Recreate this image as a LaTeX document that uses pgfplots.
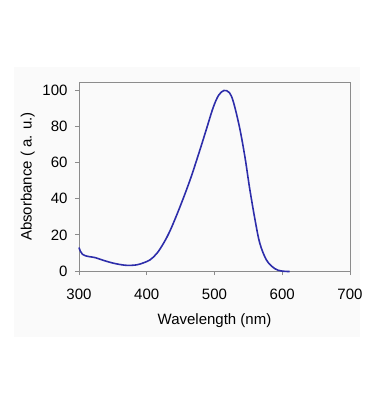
\documentclass[border=0pt]{standalone}
\usepackage{pgfplots}
\pgfplotsset{compat=1.18}
\usepackage{fontspec}
\setmainfont{Liberation Sans}
\definecolor{curve}{RGB}{45,45,170}
\definecolor{axgray}{RGB}{140,140,140}
\definecolor{panel}{RGB}{250,250,250}
\begin{document}
\begin{tikzpicture}
\path[use as bounding box, fill=white] (-79bp,-148bp) rectangle (290bp,271bp);
\fill[panel] (-65bp,-66bp) rectangle (281bp,204bp);
\begin{axis}[
  at={(0,0)}, anchor=south west,
  scale only axis, width=271bp, height=189bp,
  xmin=300, xmax=700, ymin=0, ymax=104.7,
  xtick={300,400,...,700}, ytick={0,20,...,100},
  axis line style={axgray, line width=0.8pt},
  tick style={axgray, line width=0.8pt},
  tick align=outside, major tick length=4bp,
  xtick pos=bottom, ytick pos=left,
  /pgf/number format/assume math mode=true,
  ticklabel style={font=\fontsize{15bp}{18bp}\selectfont, text=black},
  xticklabel style={yshift=-11bp},
  yticklabel style={xshift=-4bp},
  label style={font=\fontsize{15bp}{18bp}\selectfont},
  xlabel={Wavelength (nm)}, ylabel={Absorbance ( a. u.)},
  xlabel style={yshift=-7bp}, ylabel style={yshift=1bp},
  clip=false,
]
\addplot[curve, line width=1.6pt, smooth, tension=0.55] coordinates {
(300,13.0) (302,11.0) (305,9.3) (309,8.5) (316,7.9) (324,7.4) (336,5.9)
(350,4.4) (362,3.5) (372,3.1) (385,3.4) (395,4.5) (405,6.2) (415,9.8)
(425,15.5) (435,22.8) (449,35.5) (464,50.5) (478,66.5) (488,78.5)
(498,90.5) (506,97.3) (514,100) (522,98.8) (528,93.5) (537,79.5)
(545,63) (552,45.5) (560,28) (567,15.2) (577,5.9) (589,1.3) (599,0)
(611,-0.3)
};
\end{axis}
\end{tikzpicture}
\end{document}
